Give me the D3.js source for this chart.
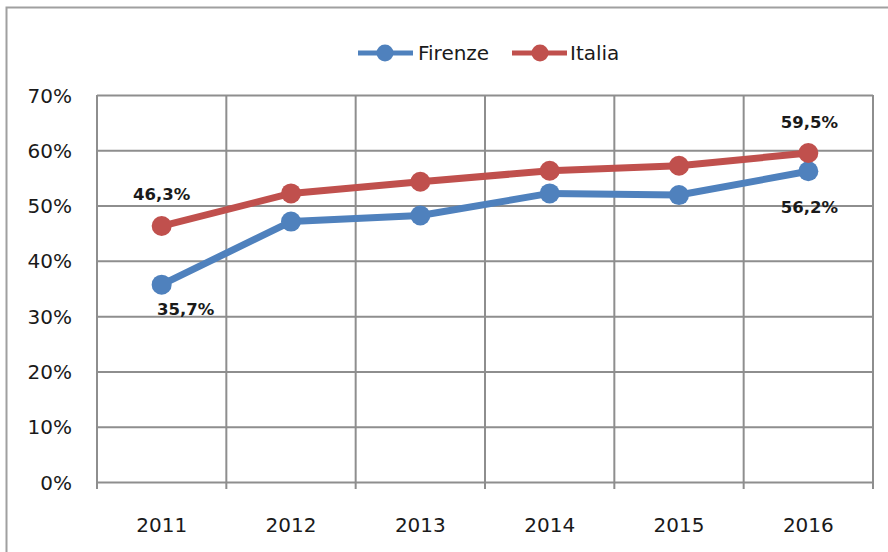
<!DOCTYPE html>
<html><head><meta charset="utf-8">
<script src="https://cdn.jsdelivr.net/npm/d3@7"></script>
<style>
html,body{margin:0;padding:0;background:#fff;}
svg{display:block;}
text{font-family:"DejaVu Sans",Verdana,sans-serif;fill:#1a1a1a;}
</style></head>
<body>
<svg id="chart" width="888" height="552"></svg>
<script>
const years = ["2011","2012","2013","2014","2015","2016"];
const firenze = [35.7, 47.1, 48.2, 52.2, 51.9, 56.2];
const italia = [46.3, 52.2, 54.3, 56.3, 57.2, 59.5];
const yTicks = [0,10,20,30,40,50,60,70];
const seriesNames = ["Firenze","Italia"];
const firenzeLabels = ["35,7%", null, null, null, null, "56,2%"];
const italiaLabels = ["46,3%", null, null, null, null, "59,5%"];

const W = 888, H = 552;
const plot = {left:97, right:873, top:95, bottom:482};
const colors = {Firenze:"#4F81BD", Italia:"#C0504D"};
const labelOffsets = {
  Firenze: {0:[24,25], 5:[1,36]},
  Italia: {0:[0,-32], 5:[1,-31]}
};

const svg = d3.select("#chart");

// outer frame
svg.append("rect").attr("x",6.5).attr("y",7.5).attr("width",1000).attr("height",1000)
  .attr("fill","none").attr("stroke","#a0a0a0").attr("stroke-width",2);

const x = d3.scaleBand().domain(years).range([plot.left, plot.right]).padding(0);
const y = d3.scaleLinear().domain([0,70]).range([plot.bottom, plot.top]);
const cx = d => x(d) + x.bandwidth()/2;

// horizontal gridlines + y labels
const yAxis = d3.axisLeft(y).tickValues(yTicks).tickSize(-(plot.right-plot.left))
  .tickPadding(25).tickFormat(d => d + "%");
const gy = svg.append("g").attr("transform",`translate(${plot.left},0)`).call(yAxis);
gy.select(".domain").remove();
gy.selectAll(".tick line").attr("stroke","#8e8e8e").attr("stroke-width",2);
gy.selectAll(".tick text").attr("font-size",20).attr("fill","#1a1a1a")
  .style("font-family","'DejaVu Sans',sans-serif").attr("dy","0.35em");

// vertical gridlines (category boundaries) with tick extension
const bounds = years.map(d => x(d)).concat([plot.right]);
svg.append("g").selectAll("line").data(bounds).join("line")
  .attr("x1",d=>d).attr("x2",d=>d).attr("y1",plot.top).attr("y2",plot.bottom+7)
  .attr("stroke","#8e8e8e").attr("stroke-width",2);

// x labels
const xAxis = d3.axisBottom(x).tickSize(0).tickPadding(0);
const gx = svg.append("g").attr("transform",`translate(0,${plot.bottom})`).call(xAxis);
gx.select(".domain").remove();
gx.selectAll(".tick text").attr("font-size",20).attr("fill","#1a1a1a")
  .style("font-family","'DejaVu Sans',sans-serif").attr("y",43).attr("dy","0.35em");

// series
const series = [
  {name:"Firenze", values:firenze, labels:firenzeLabels},
  {name:"Italia", values:italia, labels:italiaLabels}
];
const line = d3.line().x((d,i)=>cx(years[i])).y(d=>y(d));
series.forEach(s => {
  const g = svg.append("g");
  g.append("path").datum(s.values).attr("d",line).attr("fill","none")
    .attr("stroke",colors[s.name]).attr("stroke-width",7).attr("stroke-linejoin","round");
  g.selectAll("circle").data(s.values).join("circle")
    .attr("cx",(d,i)=>cx(years[i])).attr("cy",d=>y(d)).attr("r",10)
    .attr("fill",colors[s.name]);
});
// data labels
series.forEach(s => {
  s.labels.forEach((lab,i) => {
    if(!lab) return;
    const off = labelOffsets[s.name][i];
    svg.append("text").attr("x",cx(years[i])+off[0]).attr("y",y(s.values[i])+off[1])
      .attr("dy","0.35em").attr("text-anchor","middle").attr("font-size",16.5)
      .attr("font-weight","bold").attr("fill","#1a1a1a").text(lab);
  });
});

// legend
const legendItems = [
  {name:seriesNames[0], x0:358, x1:413, cxm:385, tx:418},
  {name:seriesNames[1], x0:512, x1:567, cxm:540, tx:570}
];
const lg = svg.append("g");
legendItems.forEach(it => {
  lg.append("line").attr("x1",it.x0).attr("x2",it.x1).attr("y1",53).attr("y2",53)
    .attr("stroke",colors[it.name]).attr("stroke-width",5);
  lg.append("circle").attr("cx",it.cxm).attr("cy",53).attr("r",8.5).attr("fill",colors[it.name]);
  lg.append("text").attr("x",it.tx).attr("y",53).attr("dy","0.35em").attr("font-size",20).text(it.name);
});
</script>
</body></html>
